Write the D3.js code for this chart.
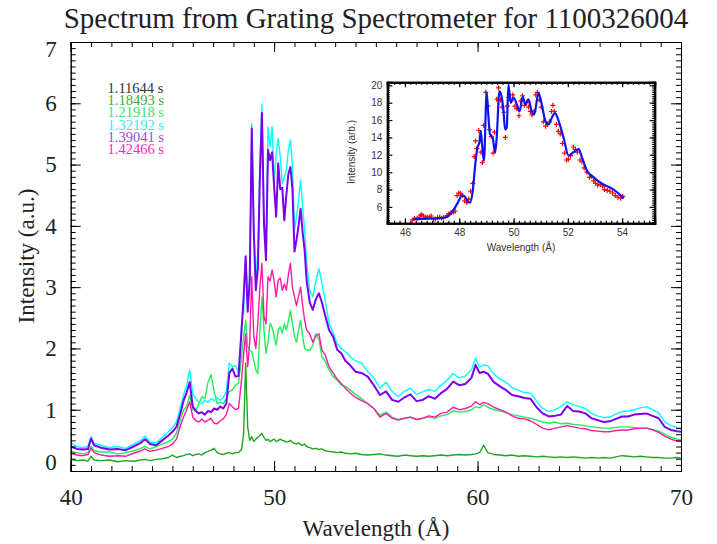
<!DOCTYPE html>
<meta charset="utf-8">
<script src="https://cdn.jsdelivr.net/npm/d3@7"></script>
<style>body{margin:0;background:#fff}</style>
<div id="chart"></div>
<script>

// wavelength grid (Angstrom) shared by all spectra
var wavelength = [40.0,40.3,40.6,40.85,41.0,41.15,41.5,41.9,42.3,42.7,43.1,43.45,43.65,43.9,44.2,44.5,44.8,45.0,45.2,45.4,
  45.55,45.7,45.85,46.0,46.15,46.3,46.45,46.6,46.75,46.9,47.05,47.2,47.35,47.5,47.65,47.8,47.95,48.1,48.25,48.4,
  48.5,48.6,48.7,48.8,48.9,49.0,49.1,49.2,49.3,49.4,49.5,49.6,49.7,49.8,49.9,50.0,50.1,50.2,50.3,50.4,
  50.5,50.6,50.7,50.8,50.9,51.0,51.1,51.2,51.3,51.4,51.5,51.6,51.75,51.9,52.05,52.2,52.35,52.5,52.7,52.9,
  53.1,53.3,53.5,53.75,54.0,54.3,54.6,54.9,55.2,55.5,55.8,56.1,56.4,56.7,57.0,57.3,57.6,57.9,58.2,58.5,
  58.8,59.1,59.4,59.7,59.9,60.1,60.3,60.5,60.8,61.1,61.4,61.7,62.0,62.3,62.6,62.9,63.2,63.5,63.8,64.1,
  64.4,64.7,65.0,65.3,65.6,65.9,66.2,66.5,66.8,67.1,67.4,67.7,68.0,68.3,68.6,68.9,69.2,69.5,69.8,70.0];

var spec118493 = [.19,.17,.18,.16,.24,.18,.17,.18,.15,.17,.16,.18,.19,.17,.19,.20,.22,.26,.22,.24,
  .25,.27,.28,.25,.27,.28,.26,.30,.32,.34,.37,.30,.28,.27,.29,.30,.28,.30,.30,.35,
  .60,1.76,.72,.50,.56,.48,.52,.55,.58,.61,.55,.50,.52,.48,.50,.52,.48,.50,.52,.50,
  .49,.47,.48,.50,.47,.45,.44,.46,.43,.42,.44,.40,.38,.36,.37,.35,.36,.33,.32,.31,
  .30,.31,.29,.28,.29,.27,.26,.27,.28,.26,.25,.24,.26,.25,.24,.25,.24,.25,.26,.25,
  .26,.27,.26,.27,.28,.30,.42,.30,.27,.26,.25,.26,.24,.25,.24,.23,.24,.23,.22,.23,
  .22,.23,.22,.21,.22,.21,.22,.21,.23,.25,.24,.23,.24,.23,.22,.22,.21,.21,.22,.21];

var spec121918 = [.32,.30,.28,.30,.40,.33,.31,.31,.28,.30,.33,.37,.40,.36,.40,.44,.48,.52,.62,.85,
  1.0,1.05,1.24,1.0,.98,1.10,1.21,1.18,1.45,1.57,1.30,1.10,1.12,1.10,1.18,1.30,1.32,1.40,1.43,1.86,
  2.20,2.46,2.03,1.97,1.95,1.80,1.65,1.59,2.30,2.84,2.30,1.92,2.10,2.41,2.35,2.20,2.05,2.30,2.35,2.25,
  2.40,2.30,2.45,2.62,2.40,2.20,2.10,2.30,2.46,2.20,2.00,1.97,1.97,2.05,2.24,2.15,1.86,1.80,1.65,1.54,
  1.48,1.40,1.38,1.32,1.25,1.18,1.10,1.02,.91,.96,.88,.84,.86,.88,.84,.86,.88,.86,.90,.92,
  .98,.96,.97,1.00,1.05,1.03,1.08,1.04,1.00,.98,.95,.92,.90,.88,.86,.83,.80,.78,.80,.77,
  .78,.76,.75,.74,.72,.71,.70,.70,.71,.72,.72,.71,.70,.70,.68,.65,.60,.55,.52,.51];

var spec132192 = [.46,.40,.38,.40,.56,.45,.42,.38,.40,.37,.44,.50,.57,.47,.46,.55,.64,.70,.80,1.05,
  1.24,1.40,1.65,1.25,1.18,1.12,1.10,1.15,1.12,1.18,1.15,1.20,1.15,1.20,1.30,1.76,1.70,1.72,1.60,2.41,
  2.60,3.52,2.73,3.20,5.67,4.00,3.06,3.60,5.00,5.99,4.20,3.60,5.61,5.29,5.62,4.69,5.18,5.42,5.13,4.69,
  4.80,4.90,5.24,5.40,5.00,3.93,4.15,4.40,4.75,4.30,3.93,3.40,2.95,2.84,3.10,3.30,3.06,2.80,2.41,2.25,
  2.08,2.00,1.95,1.86,1.80,1.76,1.62,1.52,1.35,1.45,1.30,1.21,1.30,1.35,1.25,1.29,1.33,1.30,1.40,1.48,
  1.59,1.52,1.55,1.65,1.84,1.70,1.73,1.72,1.58,1.50,1.45,1.36,1.32,1.28,1.27,1.14,1.02,.97,1.00,1.05,
  1.13,1.08,1.05,1.02,.94,.90,.87,.88,.93,.97,.98,1.00,1.03,1.05,1.00,.95,.80,.74,.71,.70];

var spec139041 = [.40,.36,.35,.36,.53,.42,.38,.35,.36,.34,.40,.46,.52,.44,.42,.50,.58,.64,.72,.95,
  1.15,1.28,1.45,1.05,.98,.94,.96,.92,.98,.96,1.02,1.00,1.05,1.02,1.10,1.60,1.67,1.54,1.55,2.30,
  2.84,3.50,2.60,3.10,5.59,3.90,2.95,3.30,4.80,5.84,4.04,3.44,5.24,5.07,5.20,4.64,4.15,5.02,4.60,4.62,
  4.09,4.50,4.85,4.96,4.60,3.58,3.77,4.00,4.28,3.90,3.60,3.10,2.75,2.63,2.80,2.90,2.75,2.55,2.30,2.19,
  1.98,1.92,1.80,1.72,1.62,1.60,1.54,1.40,1.24,1.30,1.16,1.13,1.20,1.25,1.14,1.16,1.22,1.18,1.27,1.34,
  1.46,1.40,1.42,1.52,1.73,1.60,1.62,1.59,1.45,1.38,1.32,1.24,1.22,1.19,1.18,1.04,.94,.89,.90,.92,
  1.06,.98,.97,.94,.86,.83,.80,.81,.85,.89,.89,.92,.93,.94,.90,.86,.72,.67,.65,.64];

var spec142466 = [.29,.26,.25,.27,.37,.30,.26,.24,.25,.24,.29,.33,.36,.32,.34,.37,.40,.44,.52,.75,
  .88,1.00,1.13,.88,.82,.80,.85,.80,.83,.86,.78,.77,.82,.85,.92,1.10,1.05,1.00,1.02,1.50,
  1.90,2.24,1.70,2.10,3.17,2.20,2.00,2.41,3.00,3.39,2.52,2.40,3.17,3.10,3.28,3.10,2.84,3.11,3.15,2.95,
  3.05,2.95,3.20,3.39,3.00,2.84,2.70,2.85,3.00,2.70,2.46,2.30,2.24,2.10,2.20,2.24,1.97,1.90,1.70,1.60,
  1.50,1.43,1.35,1.27,1.20,1.15,1.10,1.02,.88,.94,.86,.83,.86,.88,.84,.86,.90,.88,.94,.96,
  1.04,1.00,1.02,1.06,1.13,1.08,1.12,1.10,1.04,1.00,.96,.90,.86,.85,.82,.76,.70,.67,.70,.72,
  .74,.72,.70,.69,.66,.65,.64,.64,.66,.67,.67,.69,.70,.70,.67,.63,.57,.52,.49,.48];

var timeLabels = ["1.11644 s","1.18493 s","1.21918 s","1.32192 s","1.39041 s","1.42466 s"];
var xTicks = [40, 50, 60, 70];
var yTicks = [0, 1, 2, 3, 4, 5, 6, 7];

// inset: measured points and fit
var insetDataWave = [46.28,46.35,46.45,46.52,46.58,46.62,46.68,46.75,46.82,46.9,46.97,47.05,47.12,47.2,47.28,47.35,47.42,47.55,47.62,47.7,
  47.78,47.85,47.92,47.98,48.05,48.12,48.2,48.28,48.35,48.42,48.5,48.55,48.6,48.65,48.72,48.8,48.85,48.9,48.98,49.05,
  49.12,49.18,49.25,49.3,49.38,49.45,49.52,49.58,49.64,49.7,49.77,49.83,49.9,49.97,50.05,50.12,50.2,50.27,50.33,50.4,
  50.48,50.55,50.62,50.68,50.75,50.82,50.88,50.95,51.02,51.1,51.18,51.25,51.32,51.4,51.45,51.5,51.58,51.65,51.72,51.8,
  51.88,51.95,52.02,52.1,52.2,52.28,52.35,52.45,52.52,52.6,52.7,52.8,52.88,52.95,53.02,53.1,53.2,53.28,53.35,53.45,
  53.55,53.65,53.75,53.85,53.95,54.02];
var insetDataInt = [4.5,4.65,4.7,4.75,5.05,5.1,4.95,4.8,4.85,4.85,4.95,4.55,4.6,4.75,4.8,4.7,4.75,5.0,5.2,5.35,
  5.4,5.5,7.3,7.6,7.55,7.3,6.7,6.5,6.9,7.8,8.7,11.8,13.6,12.7,14.8,12.3,11.1,15.4,19.2,17.6,
  14.9,14.1,12.2,14.6,18.4,19.7,18.3,17.5,16.9,14.0,17.6,18.6,18.2,18.9,17.6,17.3,16.5,18.2,18.8,17.7,
  18.0,17.5,17.0,16.6,17.0,18.9,19.2,18.3,17.5,15.8,15.3,15.5,15.8,17.0,17.7,17.0,15.5,14.7,14.4,13.3,
  12.2,11.4,11.5,11.9,12.9,12.6,12.3,11.4,11.2,10.5,10.0,9.4,9.5,9.0,8.7,8.5,8.6,8.4,8.0,7.9,
  7.8,7.6,7.3,7.1,7.0,7.2];
var insetFitWave = [46.31,47.41,47.56,47.78,48.02,48.08,48.2,48.33,48.4,48.5,48.58,48.67,48.74,48.79,48.84,48.91,49.01,49.07,49.13,49.23,
  49.32,49.38,49.48,49.57,49.63,49.69,49.75,49.81,49.9,50.0,50.12,50.22,50.34,50.43,50.55,50.67,50.76,50.92,51.04,51.17,
  51.29,51.41,51.53,51.66,51.84,52.03,52.21,52.4,52.52,52.7,52.95,53.26,53.63,54.06];
var insetFitInt = [4.59,4.75,4.86,5.62,6.95,7.33,7.2,6.57,6.5,7.9,10.56,12.84,13.4,14.75,13.2,11.3,19.2,16.65,14.4,14.0,
  12.27,14.0,19.3,18.55,17.03,14.9,15.1,20.07,18.0,18.6,17.8,17.0,18.7,17.8,18.4,17.0,16.65,19.1,17.8,15.9,
  15.5,16.27,16.8,15.9,14.0,11.9,12.3,12.65,11.7,10.2,9.4,8.66,8.1,7.0];
var insetXTicks = [46, 48, 50, 52, 54];
var insetYTicks = [6, 8, 10, 12, 14, 16, 18, 20];

var series = [null, spec118493, spec121918, spec132192, spec139041, spec142466];
var colors = ["#000000", "#1fa51f", "#22ee5a", "#00ffff", "#7a00f0", "#ff1aa8"];
var textColors = ["#333333", "#3aad3a", "#3fe06a", "#3ae8e8", "#9a4af0", "#ff2ab0"];

var serif = "Liberation Serif, Times New Roman, Times, DejaVu Serif, serif";
var sans = "Liberation Sans, Arial, Helvetica, sans-serif";

var svg = d3.select("#chart").append("svg")
  .attr("width", 717).attr("height", 544)
  .style("display", "block")

var x = d3.scaleLinear().domain([40, 70]).range([70.7, 681]);
var y = d3.scaleLinear().domain([0, 7]).range([471, 42]);

svg.append("clipPath").attr("id", "plotclip")
  .append("rect").attr("x", 70.7).attr("y", 42).attr("width", 681 - 70.7).attr("height", 471 - 42);

// spectra
var line = d3.line()
  .x(function(d, i){ return x(wavelength[i]) })
  .y(function(d){ return y(d) });

var g = svg.append("g").attr("clip-path", "url(#plotclip)");
series.forEach(function(s, k){
  if (!s) return;
  g.append("path")
    .attr("d", line(s))
    .attr("fill", "none")
    .attr("stroke", colors[k])
    .attr("stroke-width", k == 4 ? 2 : 1.4)
    .attr("stroke-linejoin", "round");
});

// axes, ticks pointing inwards as in IDL
function styleAxis(sel){
  sel.select(".domain").attr("stroke", "#000").attr("stroke-width", 1);
  sel.selectAll(".tick line").attr("stroke", "#000");
}

var minorX = d3.range(40, 70.001, 1);
var minorY = d3.range(0, 7.0001, 0.1);

svg.append("g").attr("transform", "translate(0,471)")
  .call(d3.axisBottom(x).tickValues(minorX).tickSize(-5).tickFormat("")).call(styleAxis);
var xb = svg.append("g").attr("transform", "translate(0,471)")
  .call(d3.axisBottom(x).tickValues(xTicks).tickSize(-10).tickFormat(d3.format("d"))).call(styleAxis);
xb.selectAll("text").attr("y", 18).attr("dy", "0.71em")
  .attr("font-family", serif).attr("font-size", 23).attr("fill", "#222");

svg.append("g").attr("transform", "translate(0,42)")
  .call(d3.axisTop(x).tickValues(minorX).tickSize(-5).tickFormat("")).call(styleAxis);
svg.append("g").attr("transform", "translate(0,42)")
  .call(d3.axisTop(x).tickValues(xTicks).tickSize(-10).tickFormat("")).call(styleAxis);

svg.append("g").attr("transform", "translate(70.7,0)")
  .call(d3.axisLeft(y).tickValues(minorY).tickSize(-5).tickFormat("")).call(styleAxis);
var yl = svg.append("g").attr("transform", "translate(70.7,0)")
  .call(d3.axisLeft(y).tickValues(yTicks).tickSize(-10).tickFormat(d3.format("d"))).call(styleAxis);
yl.selectAll("text").attr("x", -14)
  .attr("dy", function(d){ return d == 0 ? "-0.05em" : d == 7 ? "0.65em" : "0.32em" })
  .attr("font-family", serif).attr("font-size", 23).attr("fill", "#222");

svg.append("g").attr("transform", "translate(681,0)")
  .call(d3.axisRight(y).tickValues(minorY).tickSize(-5).tickFormat("")).call(styleAxis);
svg.append("g").attr("transform", "translate(681,0)")
  .call(d3.axisRight(y).tickValues(yTicks).tickSize(-10).tickFormat("")).call(styleAxis);

// titles
svg.append("text").attr("x", 376).attr("y", 28).attr("text-anchor", "middle")
  .attr("font-family", serif).attr("font-size", 29).attr("fill", "#222")
  .text("Spectrum from Grating Spectrometer for 1100326004");
svg.append("text").attr("x", 376).attr("y", 536).attr("text-anchor", "middle")
  .attr("font-family", serif).attr("font-size", 23).attr("fill", "#222")
  .text("Wavelength (Å)");
svg.append("text").attr("transform", "translate(34,256) rotate(-90)").attr("text-anchor", "middle")
  .attr("font-family", serif).attr("font-size", 23).attr("fill", "#222")
  .text("Intensity (a.u.)");

// legend
svg.append("g").selectAll("text").data(timeLabels).enter().append("text")
  .attr("x", 107.5)
  .attr("y", function(d, i){ return 93 + i * 12.2 })
  .attr("font-family", serif).attr("font-size", 14.5)
  .attr("fill", function(d, i){ return textColors[i] })
  .text(function(d){ return d });

// inset
var ix = d3.scaleLinear().domain([45.35, 55.2]).range([387.3, 654.7]);
var iy = d3.scaleLinear().domain([4.11, 20.35]).range([223.3, 82.3]);
var inset = svg.append("g");
inset.append("rect").attr("x", 387.3).attr("y", 82.3).attr("width", 654.7 - 387.3).attr("height", 223.3 - 82.3)
  .attr("fill", "#fff");

function styleInset(sel){
  sel.select(".domain").attr("stroke", "#000").attr("stroke-width", 2);
  sel.selectAll(".tick line").attr("stroke", "#000").attr("stroke-width", 1.2);
  sel.selectAll("text").attr("font-family", sans).attr("font-size", 10).attr("fill", "#333");
}
var iMinorX = d3.range(45.4, 55.2, 0.2);
var iMinorY = d3.range(4.25, 20.35, 0.25);

inset.append("g").attr("transform", "translate(0,223.3)")
  .call(d3.axisBottom(ix).tickValues(iMinorX).tickSize(-2.5).tickFormat("")).call(styleInset);
inset.append("g").attr("transform", "translate(0,223.3)")
  .call(d3.axisBottom(ix).tickValues(insetXTicks).tickSize(-5).tickPadding(6).tickFormat(d3.format("d"))).call(styleInset);
inset.append("g").attr("transform", "translate(0,82.3)")
  .call(d3.axisTop(ix).tickValues(iMinorX).tickSize(-2.5).tickFormat("")).call(styleInset);
inset.append("g").attr("transform", "translate(0,82.3)")
  .call(d3.axisTop(ix).tickValues(insetXTicks).tickSize(-5).tickFormat("")).call(styleInset);
inset.append("g").attr("transform", "translate(387.3,0)")
  .call(d3.axisLeft(iy).tickValues(iMinorY).tickSize(-2.5).tickFormat("")).call(styleInset);
inset.append("g").attr("transform", "translate(387.3,0)")
  .call(d3.axisLeft(iy).tickValues(insetYTicks).tickSize(-5).tickPadding(5).tickFormat(d3.format("d"))).call(styleInset);
inset.append("g").attr("transform", "translate(654.7,0)")
  .call(d3.axisRight(iy).tickValues(iMinorY).tickSize(-2.5).tickFormat("")).call(styleInset);
inset.append("g").attr("transform", "translate(654.7,0)")
  .call(d3.axisRight(iy).tickValues(insetYTicks).tickSize(-5).tickFormat("")).call(styleInset);

inset.append("text").attr("x", 521).attr("y", 251).attr("text-anchor", "middle")
  .attr("font-family", sans).attr("font-size", 10).attr("fill", "#333")
  .text("Wavelength (Å)");
inset.append("text").attr("transform", "translate(355,152) rotate(-90)").attr("text-anchor", "middle")
  .attr("font-family", sans).attr("font-size", 10).attr("fill", "#333")
  .text("Intensity (arb.)");

// red + markers
inset.append("g").selectAll("path").data(insetDataWave).enter().append("path")
  .attr("d", function(d, i){
    var px = ix(d), py = iy(insetDataInt[i]);
    return "M" + (px - 2.5) + "," + py + "H" + (px + 2.5) + "M" + px + "," + (py - 2.5) + "V" + (py + 2.5);
  })
  .attr("stroke", "#ff0000").attr("stroke-width", 1.2);

// blue fit
var fitLine = d3.line()
  .x(function(d, i){ return ix(insetFitWave[i]) })
  .y(function(d){ return iy(d) })
  .curve(d3.curveMonotoneX);
inset.append("path").attr("d", fitLine(insetFitInt))
  .attr("fill", "none").attr("stroke", "#0a14f0").attr("stroke-width", 2.2);

</script>
